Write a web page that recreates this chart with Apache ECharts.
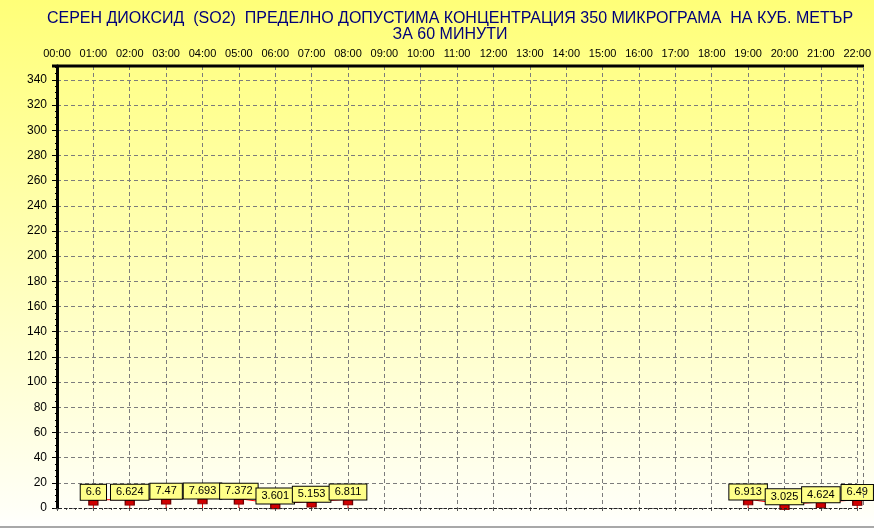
<!DOCTYPE html>
<html><head><meta charset="utf-8">
<script src="https://cdn.jsdelivr.net/npm/echarts@6/dist/echarts.min.js"></script>
<style>html,body{margin:0;padding:0;background:#fff}#c{width:874px;height:529px}</style>
</head><body><div id="c"></div>
<script>
var titleLine1 = 'СЕРЕН ДИОКСИД  (SO2)  ПРЕДЕЛНО ДОПУСТИМА КОНЦЕНТРАЦИЯ 350 МИКРОГРАМА  НА КУБ. МЕТЪР';
var titleLine2 = 'ЗА 60 МИНУТИ';
var hourLabels = ['00:00','01:00','02:00','03:00','04:00','05:00','06:00','07:00','08:00','09:00','10:00','11:00','12:00','13:00','14:00','15:00','16:00','17:00','18:00','19:00','20:00','21:00','22:00'];
var so2Values = [null, 6.6, 6.624, 7.47, 7.693, 7.372, 3.601, 5.153, 6.811, null, null, null, null, null, null, null, null, null, null, 6.913, 3.025, 4.624, 6.49];
var yMax = 351;

var pts = so2Values.map(function(v, i){ return [i, v]; });

var chart = echarts.init(document.getElementById('c'));
chart.setOption({
  animation: false,
  backgroundColor: {type:'linear', x:0, y:0, x2:0, y2:1, colorStops:[
    {offset:0, color:'#FFFF78'}, {offset:0.5, color:'#FFFFB8'}, {offset:0.96, color:'#FFFFF6'}, {offset:1, color:'#FFFFFF'}]},
  title: {
    text: titleLine1 + '\n' + titleLine2,
    left: 445, textAlign: 'center', top: 6,
    textStyle: {fontFamily:'Liberation Sans', fontSize:16, fontWeight:'normal', color:'#00007A', lineHeight:16}
  },
  grid: {left:57, right:15, top:66, bottom:21},
  xAxis: {
    type:'value', position:'top', min:0, max:22, interval:1,
    axisLine:{show:false},
    axisTick:{show:true, inside:true, length:3, lineStyle:{color:'#555'}},
    minorTick:{show:true, splitNumber:4, length:2, lineStyle:{color:'#555'}},
    splitLine:{show:true, lineStyle:{color:'#7C7C7C', type:[4,3], width:1}},
    axisLabel:{margin:7, fontFamily:'Liberation Sans', fontSize:11, color:'#000',
      formatter:function(v){ return hourLabels[Math.round(v)] || ''; }}
  },
  yAxis: {
    type:'value', min:0, max:yMax, interval:20, offset:4,
    axisLine:{show:true, lineStyle:{color:'#000', width:3}},
    axisTick:{show:true, length:5, lineStyle:{color:'#000'}},
    minorTick:{show:true, splitNumber:4, length:2, lineStyle:{color:'#000'}},
    splitLine:{show:true, lineStyle:{color:'#7C7C7C', type:[4,3], width:1}},
    axisLabel:{margin:6, fontFamily:'Liberation Sans', fontSize:12, color:'#000',
      formatter:function(v){ return v > 340 ? '' : String(v); }}
  },
  graphic: [
    {type:'line', shape:{x1:52, y1:66, x2:864, y2:66}, style:{stroke:'#000', lineWidth:3}, z:100},
    {type:'line', shape:{x1:863.5, y1:67, x2:863.5, y2:508}, style:{stroke:'#777', lineWidth:1, lineDash:[4,3]}, z:100},
    {type:'line', shape:{x1:54, y1:508.5, x2:864, y2:508.5}, style:{stroke:'#222', lineWidth:1, lineDash:[3,2]}, z:100},
    {type:'rect', shape:{x:0, y:526, width:874, height:2}, style:{fill:'#A8A8A8'}, z:100}
  ],
  series: [
    {type:'bar', data:pts, barWidth:1, itemStyle:{color:'#E00000'}, z:2, silent:true},
    {type:'line', data:pts, connectNulls:false, z:3,
      lineStyle:{color:'#FF0000', width:1},
      symbol:'rect', symbolSize:[9,5], symbolOffset:[0,3],
      itemStyle:{color:'#D00000', borderColor:'#700000', borderWidth:1},
      label:{show:true, position:'top', distance:0,
        fontFamily:'Liberation Sans', fontSize:11, color:'#000',
        backgroundColor:'#FFFF88', borderColor:'#000', borderWidth:1,
        padding:[2,5,2,5], lineHeight:11,
        formatter:function(p){ return String(p.value[1]); }}
    }
  ]
});
</script></body></html>
